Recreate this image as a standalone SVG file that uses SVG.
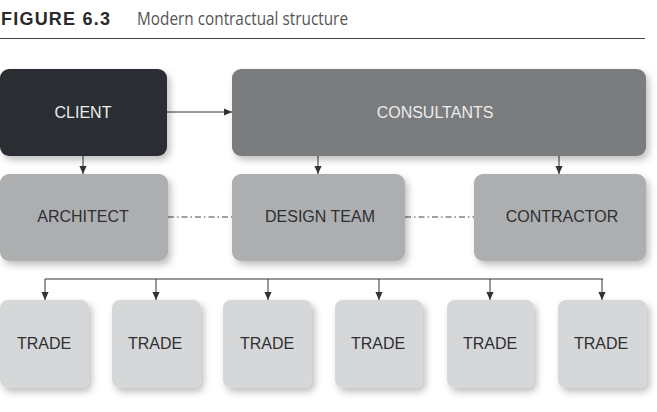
<svg xmlns="http://www.w3.org/2000/svg" width="657" height="412" viewBox="0 0 657 412">
<style>
.box{filter:url(#sh)}
.lbl{font-family:"Liberation Sans",Arial,sans-serif;font-size:16px;text-anchor:middle}
.dark{fill:#ececec}
.ink{fill:#2e2f33}
.ln{stroke:#333;stroke-width:1;fill:none}
.arr{stroke:#333;stroke-width:1;fill:none;marker-end:url(#ah)}
.dd{stroke:#444;stroke-width:1;fill:none;stroke-dasharray:6 3 1.5 3}
</style>
<defs>
<filter id="sh" x="-10%" y="-10%" width="125%" height="130%">
<feDropShadow dx="3" dy="4" stdDeviation="3.5" flood-color="#000" flood-opacity="0.25"/>
</filter>
<marker id="ah" viewBox="0 0 10 10" refX="10" refY="5" markerWidth="8" markerHeight="8" markerUnits="userSpaceOnUse" orient="auto">
<path d="M0,0.5 L10,5 L0,9.5 z" fill="#333"/>
</marker>
</defs>
<rect width="657" height="412" fill="#fff"/>
<g id="title">
<text x="1" y="24.5" font-family="'Liberation Sans',Arial,sans-serif" font-weight="bold" font-size="18" fill="#2a2a2a" textLength="109" lengthAdjust="spacing">FIGURE 6.3</text>
<text x="137" y="24.5" font-family="'Open Sans','Liberation Sans',sans-serif" font-size="19" fill="#555" textLength="211" lengthAdjust="spacingAndGlyphs">Modern contractual structure</text>
<line x1="0" y1="38.5" x2="645" y2="38.5" stroke="#444" stroke-width="1"/>
</g>
<g id="connectors">
<line class="arr" x1="167" y1="112" x2="232" y2="112"/>
<line class="arr" x1="83" y1="156" x2="83" y2="174"/>
<line class="arr" x1="318" y1="156" x2="318" y2="174"/>
<line class="arr" x1="559" y1="156" x2="559" y2="174"/>
<line class="dd" x1="168" y1="217" x2="232" y2="217"/>
<line class="dd" x1="405" y1="217" x2="474" y2="217"/>
<line class="ln" x1="45" y1="279" x2="603" y2="279"/>
<line class="arr" x1="45" y1="279" x2="45" y2="300"/>
<line class="arr" x1="156" y1="279" x2="156" y2="300"/>
<line class="arr" x1="268" y1="279" x2="268" y2="300"/>
<line class="arr" x1="379" y1="279" x2="379" y2="300"/>
<line class="arr" x1="490" y1="279" x2="490" y2="300"/>
<line class="arr" x1="602" y1="279" x2="602" y2="300"/>
</g>
<g id="client"><rect class="box" x="0" y="69" width="167" height="87" rx="9" fill="#2b2d33"/><text class="lbl dark" x="83" y="117.5">CLIENT</text></g>
<g id="consultants"><rect class="box" x="232" y="69" width="414" height="87" rx="9" fill="#7a7b7e"/><text class="lbl dark" x="435" y="117.5">CONSULTANTS</text></g>
<g id="architect"><rect class="box" x="0" y="174" width="168" height="87" rx="9" fill="#adaeb0"/><text class="lbl ink" x="83" y="222">ARCHITECT</text></g>
<g id="design-team"><rect class="box" x="232" y="174" width="173" height="87" rx="9" fill="#adaeb0"/><text class="lbl ink" x="320" y="222">DESIGN TEAM</text></g>
<g id="contractor"><rect class="box" x="474" y="174" width="172" height="87" rx="9" fill="#adaeb0"/><text class="lbl ink" x="562" y="222">CONTRACTOR</text></g>
<g id="trade1"><rect class="box" x="0" y="300" width="89" height="88" rx="8" fill="#d6d7d9"/><text class="lbl ink" x="44" y="349">TRADE</text></g>
<g id="trade2"><rect class="box" x="112" y="300" width="89" height="88" rx="8" fill="#d6d7d9"/><text class="lbl ink" x="155" y="349">TRADE</text></g>
<g id="trade3"><rect class="box" x="223" y="300" width="89" height="88" rx="8" fill="#d6d7d9"/><text class="lbl ink" x="267" y="349">TRADE</text></g>
<g id="trade4"><rect class="box" x="335" y="300" width="88" height="88" rx="8" fill="#d6d7d9"/><text class="lbl ink" x="378" y="349">TRADE</text></g>
<g id="trade5"><rect class="box" x="447" y="300" width="87" height="88" rx="8" fill="#d6d7d9"/><text class="lbl ink" x="490" y="349">TRADE</text></g>
<g id="trade6"><rect class="box" x="558" y="300" width="89" height="88" rx="8" fill="#d6d7d9"/><text class="lbl ink" x="601" y="349">TRADE</text></g>
</svg>
